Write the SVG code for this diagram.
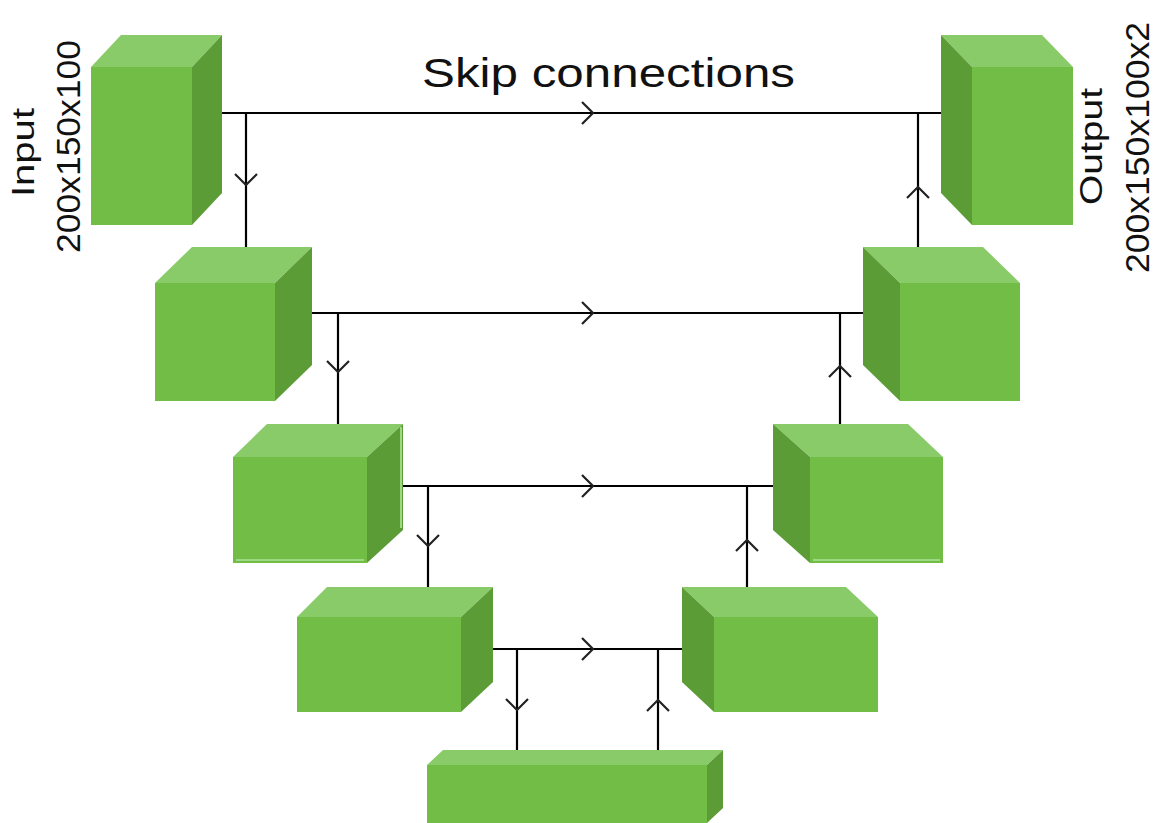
<svg xmlns="http://www.w3.org/2000/svg" width="1160" height="823" viewBox="0 0 1160 823">
<defs>
<style>
.front{fill:#72bd45}
.top{fill:#89cb68}
.side{fill:#5c9c37}
.strip{stroke:#9fd884;stroke-width:2;fill:none}
.conn{stroke:#000;stroke-width:2.2;fill:none}
.lbl{font-family:"Liberation Sans",Arial,sans-serif;fill:#111}
</style>
<marker id="chev" markerUnits="userSpaceOnUse" markerWidth="30" markerHeight="30" viewBox="-15 -15 30 30" refX="0" refY="0" orient="auto">
<path d="M-11,-11 L0,0 L-11,11" fill="none" stroke="#222" stroke-width="2.2"/>
</marker>
</defs>
<rect width="1160" height="823" fill="#fff"/>

<g id="connectors">
<path class="conn" marker-mid="url(#chev)" d="M222,113 L593,113 L941,113"/>
<path class="conn" marker-mid="url(#chev)" d="M312,313 L593,313 L863,313"/>
<path class="conn" marker-mid="url(#chev)" d="M403,486 L593,486 L773,486"/>
<path class="conn" marker-mid="url(#chev)" d="M493,649 L593,649 L684,649"/>
<path class="conn" marker-mid="url(#chev)" d="M246,113 L246,185 L246,248"/>
<path class="conn" marker-mid="url(#chev)" d="M338,313 L338,372 L338,425"/>
<path class="conn" marker-mid="url(#chev)" d="M428,486 L428,546 L428,588"/>
<path class="conn" marker-mid="url(#chev)" d="M517,649 L517,710 L517,751"/>
<path class="conn" marker-mid="url(#chev)" d="M658,751 L658,700 L658,649"/>
<path class="conn" marker-mid="url(#chev)" d="M747,588 L747,540 L747,486"/>
<path class="conn" marker-mid="url(#chev)" d="M840,425 L840,366 L840,313"/>
<path class="conn" marker-mid="url(#chev)" d="M918,248 L918,187 L918,113"/>
</g>

<g id="enc1">
<rect class="front" x="91" y="67" width="101" height="158"/>
<polygon class="top" points="91,67 121,35 222,35 192,67"/>
<polygon class="side" points="192,67 222,35 222,193 192,225"/>
</g>
<g id="enc2">
<rect class="front" x="155" y="283" width="120" height="118"/>
<polygon class="top" points="155,283 192,247 312,247 275,283"/>
<polygon class="side" points="275,283 312,247 312,365 275,401"/>
</g>
<g id="enc3">
<rect class="front" x="233" y="457" width="134" height="106"/>
<polygon class="top" points="233,457 267,424 403,424 367,457"/>
<polygon class="side" points="367,457 403,424 403,530 367,563"/>
<line class="strip" x1="236" y1="560" x2="364" y2="560"/>
<line class="strip" x1="401" y1="427" x2="401" y2="528"/>
</g>
<g id="enc4">
<rect class="front" x="297" y="617" width="164" height="95"/>
<polygon class="top" points="297,617 327,587 493,587 461,617"/>
<polygon class="side" points="461,617 493,587 493,682 461,712"/>
</g>
<g id="bottleneck">
<rect class="front" x="427" y="765" width="280" height="58"/>
<polygon class="top" points="427,765 443,750 723,750 707,765"/>
<polygon class="side" points="707,765 723,750 723,808 707,823"/>
</g>
<g id="dec4">
<rect class="front" x="714" y="617" width="164" height="95"/>
<polygon class="top" points="714,617 682,587 846,587 878,617"/>
<polygon class="side" points="714,617 682,587 682,682 714,712"/>
</g>
<g id="dec3">
<rect class="front" x="810" y="457" width="133" height="106"/>
<polygon class="top" points="810,457 773,424 908,424 943,457"/>
<polygon class="side" points="810,457 773,424 773,530 810,563"/>
<line class="strip" x1="813" y1="560" x2="940" y2="560"/>
</g>
<g id="dec2">
<rect class="front" x="900" y="283" width="120" height="118"/>
<polygon class="top" points="900,283 863,247 983,247 1020,283"/>
<polygon class="side" points="900,283 863,247 863,365 900,401"/>
</g>
<g id="dec1">
<rect class="front" x="972" y="67" width="101" height="158"/>
<polygon class="top" points="972,67 941,35 1042,35 1073,67"/>
<polygon class="side" points="972,67 941,35 941,193 972,225"/>
</g>

<g id="labels">
<text class="lbl" x="422" y="87" font-size="40.5" textLength="373" lengthAdjust="spacingAndGlyphs">Skip connections</text>
<text class="lbl" font-size="31" text-anchor="middle" textLength="89" lengthAdjust="spacingAndGlyphs" transform="translate(33.5,152.5) rotate(-90)">Input</text>
<text class="lbl" font-size="33" text-anchor="middle" textLength="213" lengthAdjust="spacingAndGlyphs" transform="translate(80,146.5) rotate(-90)">200x150x100</text>
<text class="lbl" font-size="32" text-anchor="middle" textLength="117" lengthAdjust="spacingAndGlyphs" transform="translate(1102,146.5) rotate(-90)">Output</text>
<text class="lbl" font-size="33" text-anchor="middle" textLength="251" lengthAdjust="spacingAndGlyphs" transform="translate(1149,147.5) rotate(-90)">200x150x100x2</text>
</g>
</svg>
